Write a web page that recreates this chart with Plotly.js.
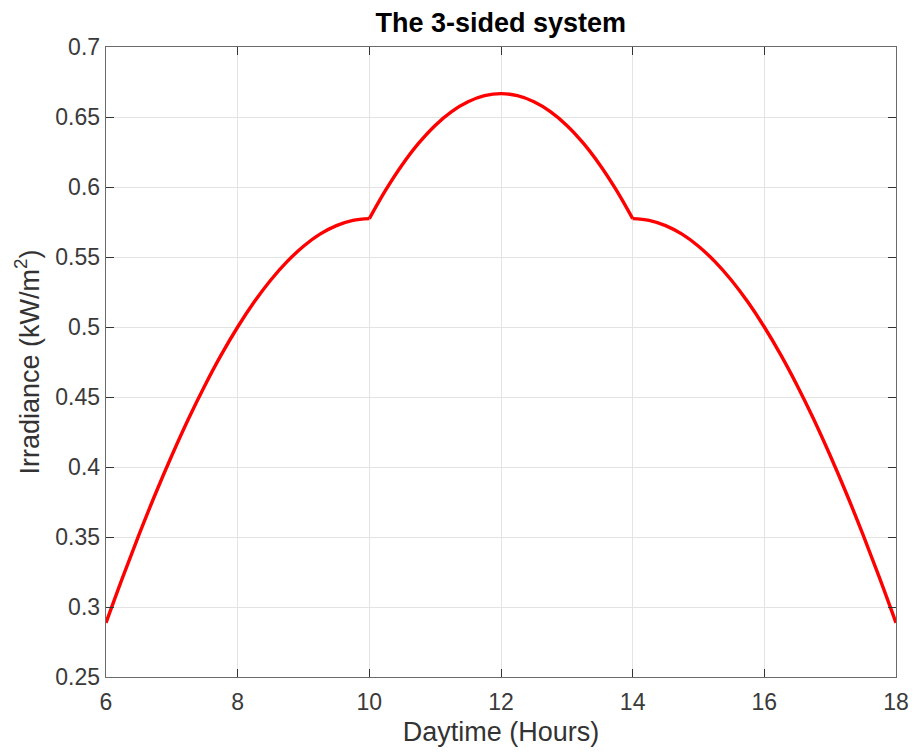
<!DOCTYPE html>
<html>
<head>
<meta charset="utf-8">
<script src="https://cdn.plot.ly/plotly-3.0.1.min.js"></script>
<style>html,body{margin:0;padding:0;background:#fff;}#chart{width:913px;height:755px;}</style>
</head>
<body>
<div id="chart"></div>
<script>
// Daytime hours (x) and irradiance values (kW/m^2)
const hours = [6,6.25,6.5,6.75,7,7.25,7.5,7.75,8,8.25,8.5,8.75,9,9.25,9.5,9.75,10,
  10.25,10.5,10.75,11,11.25,11.5,11.75,12,12.25,12.5,12.75,13,13.25,13.5,13.75,14,
  14.25,14.5,14.75,15,15.25,15.5,15.75,16,16.25,16.5,16.75,17,17.25,17.5,17.75,18];
const irradiance = [0.2887,0.3208,0.3515,0.3807,0.4082,0.4341,0.4581,0.4801,0.5000,0.5178,0.5334,0.5467,0.5577,0.5663,0.5724,0.5762,0.5774,
  0.5979,0.6159,0.6313,0.6440,0.6539,0.6609,0.6652,0.6667,0.6652,0.6609,0.6539,0.6440,0.6313,0.6159,0.5979,0.5774,
  0.5762,0.5724,0.5663,0.5577,0.5467,0.5334,0.5178,0.5000,0.4801,0.4581,0.4341,0.4082,0.3807,0.3515,0.3208,0.2887];
// hours where the curve has a sharp corner (segments are smoothed separately)
const cornerHours = [10, 14];
const xTicks = [6,8,10,12,14,16,18];
const yTicks = [0.25,0.3,0.35,0.4,0.45,0.5,0.55,0.6,0.65,0.7];
const yTickText = ['0.25','0.3','0.35','0.4','0.45','0.5','0.55','0.6','0.65','0.7'];

const font = 'Liberation Sans, Arial, Helvetica, sans-serif';
const axisCommon = {
  showline: true, mirror: 'ticks', linecolor: '#6b6b6b', linewidth: 1.3,
  ticks: 'inside', ticklen: 8, tickwidth: 1, tickcolor: '#333',
  showgrid: true, gridcolor: '#e3e3e3', gridwidth: 1, zeroline: false,
  tickfont: {family: font, size: 23, color: '#3a3a3a'}
};
const layout = {
  width: 913, height: 755,
  margin: {l: 106, r: 17, t: 47, b: 78},
  paper_bgcolor: '#fff', plot_bgcolor: '#fff',
  showlegend: false,
  title: {text: '<b>The 3-sided system</b>', x: 0.5485, xanchor: 'center', y: 0.970, yanchor: 'middle',
    font: {family: font, size: 27, color: '#000'}},
  xaxis: Object.assign({}, axisCommon, {
    range: [6, 18], tickvals: xTicks, ticktext: xTicks.map(String), ticklabelstandoff: 4,
    title: {text: 'Daytime (Hours)', font: {family: font, size: 27, color: '#333'}, standoff: 8}
  }),
  yaxis: Object.assign({}, axisCommon, {
    range: [0.25, 0.7], tickvals: yTicks, ticktext: yTickText,
    title: {text: 'Irradiance (kW/m<sup>2</sup>)', font: {family: font, size: 27, color: '#333'}, standoff: 8}
  })
};
// split into segments at the corners
const bounds = [hours[0], ...cornerHours, hours[hours.length - 1]];
const traces = [];
for (let s = 0; s < bounds.length - 1; s++) {
  const xs = [], ys = [];
  hours.forEach((h, i) => { if (h >= bounds[s] && h <= bounds[s + 1]) { xs.push(h); ys.push(irradiance[i]); } });
  traces.push({x: xs, y: ys, type: 'scatter', mode: 'lines',
    line: {color: '#ff0000', width: 3.4, shape: 'spline', smoothing: 1}, hoverinfo: 'skip'});
}
Plotly.newPlot('chart', traces, layout, {staticPlot: true, displayModeBar: false});
</script>
</body>
</html>
